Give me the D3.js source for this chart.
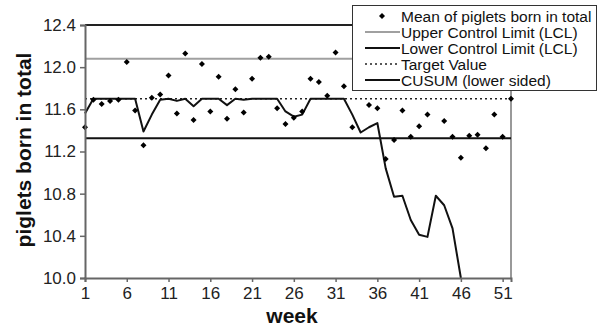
<!DOCTYPE html>
<html><head><meta charset="utf-8">
<script src="https://cdn.jsdelivr.net/npm/d3@7"></script>
<style>body{margin:0;background:#fff}svg{display:block}</style>
</head><body>
<svg id="c" width="607" height="330"></svg>
<script>
const weeks = d3.range(1, 53);
const meanValues = [11.43,11.69,11.65,11.68,11.69,12.05,11.59,11.26,11.71,11.74,
  11.92,11.56,12.13,11.50,12.03,11.58,11.91,11.51,11.79,11.57,
  11.89,12.09,12.10,11.61,11.46,11.52,11.58,11.89,11.86,11.73,
  12.14,11.82,11.43,null,11.64,11.61,11.13,11.31,11.59,11.34,
  11.44,11.55,null,11.49,11.34,11.14,11.35,11.36,11.23,11.55,
  11.34,11.70];
const cusumValues = [11.56,11.70,11.70,11.70,11.70,11.70,11.70,11.39,11.55,11.69,
  11.70,11.68,11.70,11.63,11.70,11.70,11.70,11.64,11.70,11.69,
  11.70,11.70,11.70,11.70,11.58,11.53,11.55,11.70,11.70,11.70,
  11.70,11.70,11.55,11.38,11.43,11.47,11.04,10.77,10.78,10.55,
  10.41,10.39,10.78,10.69,10.47,10.00];
const ucl = 12.08, lcl = 11.325, target = 11.70;
const yTicks = [10.0,10.4,10.8,11.2,11.6,12.0,12.4];
const xTicks = [1,6,11,16,21,26,31,36,41,46,51];
const legendLabels = ["Mean of piglets born in total","Upper Control Limit (LCL)","Lower Control Limit (LCL)","Target Value","CUSUM (lower sided)"];

const svg = d3.select("#c");
const font = "'Liberation Sans', Arial, Helvetica, sans-serif";
const L = 85, R = 511, T = 25, B = 278;
const x = d3.scaleLinear().domain([1, 52]).range([L, R]);
const y = d3.scaleLinear().domain([10.0, 12.4]).range([B, T]);

// plot frame top/right
svg.append("line").attr("x1", L).attr("x2", R).attr("y1", T).attr("y2", T).attr("stroke", "#222").attr("stroke-width", 2);
svg.append("line").attr("x1", R).attr("x2", R).attr("y1", T).attr("y2", B).attr("stroke", "#777").attr("stroke-width", 1.5);

// reference lines
const ref = svg.append("g");
ref.append("line").attr("x1", L).attr("x2", R).attr("y1", y(ucl)).attr("y2", y(ucl)).attr("stroke", "#a0a0a0").attr("stroke-width", 2);
ref.append("line").attr("x1", L).attr("x2", R).attr("y1", y(lcl)).attr("y2", y(lcl)).attr("stroke", "#111").attr("stroke-width", 2);
ref.append("line").attr("x1", L).attr("x2", R).attr("y1", y(target)).attr("y2", y(target)).attr("stroke", "#222").attr("stroke-width", 1.5).attr("stroke-dasharray", "2,3");

// CUSUM line
const line = d3.line().x((d, i) => x(weeks[i])).y(d => y(d));
svg.append("path").datum(cusumValues).attr("d", line).attr("fill", "none").attr("stroke", "#111").attr("stroke-width", 2).attr("stroke-linejoin", "round");

// markers
const sym = d3.symbol().type(d3.symbolSquare).size(18);
svg.append("g").selectAll("path").data(weeks.map((w, i) => [w, meanValues[i]]).filter(d => d[1] != null))
  .join("path").attr("d", sym).attr("fill", "#000")
  .attr("transform", d => `translate(${x(d[0])},${y(d[1])}) rotate(45)`);

// axes
const yAxis = svg.append("g").attr("transform", `translate(${L},0)`)
  .call(d3.axisLeft(y).tickValues(yTicks).tickFormat(d3.format(".1f")).tickSize(5).tickPadding(4));
const xAxis = svg.append("g").attr("transform", `translate(0,${B})`)
  .call(d3.axisBottom(x).tickValues(xTicks).tickFormat(d3.format("d")).tickSize(4).tickPadding(5));
[yAxis, xAxis].forEach(g => {
  g.select(".domain").attr("stroke", "#666").attr("stroke-width", 2);
  g.selectAll(".tick line").attr("stroke", "#666").attr("stroke-width", 1.5);
  g.selectAll("text").attr("font-family", font).attr("font-size", 17).attr("fill", "#222");
});

// titles
svg.append("text").attr("transform", "translate(31,150) rotate(-90)").attr("text-anchor", "middle")
  .attr("font-family", font).attr("font-weight", "bold").attr("font-size", 21).attr("fill", "#111")
  .text("piglets born in total");
svg.append("text").attr("x", 292).attr("y", 323).attr("text-anchor", "middle")
  .attr("font-family", font).attr("font-weight", "bold").attr("font-size", 21).attr("fill", "#111")
  .text("week");

// legend
const lg = svg.append("g");
lg.append("rect").attr("x", 352.5).attr("y", 5.5).attr("width", 244).attr("height", 85)
  .attr("fill", "#fff").attr("stroke", "#333").attr("stroke-width", 1);
const rowY = i => 16 + i * 16;
lg.selectAll("text").data(legendLabels).join("text")
  .attr("x", 401).attr("y", (d, i) => rowY(i) + 5.5)
  .attr("font-family", font).attr("font-size", 15.5).attr("fill", "#111").text(d => d);
lg.append("path").attr("d", sym).attr("fill", "#000").attr("transform", `translate(382,${rowY(0)}) rotate(45)`);
lg.append("line").attr("x1", 365).attr("x2", 400).attr("y1", rowY(1)).attr("y2", rowY(1)).attr("stroke", "#a0a0a0").attr("stroke-width", 2);
lg.append("line").attr("x1", 365).attr("x2", 400).attr("y1", rowY(2)).attr("y2", rowY(2)).attr("stroke", "#111").attr("stroke-width", 2);
lg.append("line").attr("x1", 365).attr("x2", 400).attr("y1", rowY(3)).attr("y2", rowY(3)).attr("stroke", "#222").attr("stroke-width", 1.5).attr("stroke-dasharray", "2,3");
lg.append("line").attr("x1", 365).attr("x2", 400).attr("y1", rowY(4)).attr("y2", rowY(4)).attr("stroke", "#111").attr("stroke-width", 2);
</script>
</body></html>
